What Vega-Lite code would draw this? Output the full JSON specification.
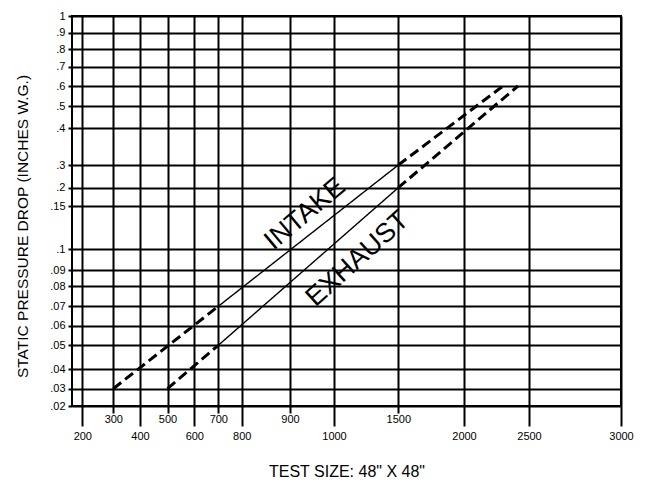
{
  "$schema": "https://vega.github.io/schema/vega-lite/v6.json",
  "width": 549,
  "height": 390,
  "autosize": "none",
  "padding": {"left": 72, "top": 16, "right": 26, "bottom": 79},
  "background": "white",
  "config": {
    "font": "Liberation Sans",
    "view": {"stroke": "black", "strokeWidth": 2},
    "axis": {
      "grid": true,
      "gridColor": "black",
      "gridOpacity": 1,
      "gridWidth": 2,
      "tickColor": "black",
      "tickWidth": 2,
      "domain": false,
      "labelColor": "black",
      "labelFontSize": 11,
      "labelFont": "Liberation Sans",
      "titleFont": "Liberation Sans",
      "titleColor": "black",
      "titleFontWeight": "normal"
    }
  },
  "datasets": {
    "curves": [
      {"series": "Intake", "seg": "i1", "style": "dashed", "size": 300, "drop": 0.03},
      {"series": "Intake", "seg": "i1", "style": "dashed", "size": 700, "drop": 0.07},
      {"series": "Intake", "seg": "i2", "style": "solid", "size": 700, "drop": 0.07},
      {"series": "Intake", "seg": "i2", "style": "solid", "size": 1500, "drop": 0.3},
      {"series": "Intake", "seg": "i3", "style": "dashed", "size": 1500, "drop": 0.3},
      {"series": "Intake", "seg": "i3", "style": "dashed", "size": 2300, "drop": 0.6},
      {"series": "Exhaust", "seg": "e1", "style": "dashed", "size": 500, "drop": 0.03},
      {"series": "Exhaust", "seg": "e1", "style": "dashed", "size": 700, "drop": 0.05},
      {"series": "Exhaust", "seg": "e2", "style": "solid", "size": 700, "drop": 0.05},
      {"series": "Exhaust", "seg": "e2", "style": "solid", "size": 1500, "drop": 0.2},
      {"series": "Exhaust", "seg": "e3", "style": "dashed", "size": 1500, "drop": 0.2},
      {"series": "Exhaust", "seg": "e3", "style": "dashed", "size": 2415, "drop": 0.6}
    ],
    "labels": [
      {"label": "INTAKE", "size": 934, "drop": 0.1407},
      {"label": "EXHAUST", "size": 1183, "drop": 0.0953}
    ]
  },
  "encoding": {
    "x": {
      "field": "size",
      "type": "quantitative",
      "scale": {
        "type": "linear",
        "nice": false,
        "zero": false,
        "domain": [167, 200, 300, 400, 500, 600, 700, 800, 900, 1000, 1500, 2000, 2500, 3000],
        "range": [0, 10.3, 41.3, 68, 95.5, 122.3, 146.3, 169.7, 218, 262, 326.3, 392, 457, 549]
      },
      "axis": {
        "values": [200, 300, 400, 500, 600, 700, 800, 900, 1000, 1500, 2000, 2500, 3000],
        "format": "d",
        "labelFlush": false,
        "labelOverlap": false,
        "tickSize": {"condition": {"test": "indexof([300,500,700,900,1500], datum.value) >= 0", "value": 7}, "value": 20},
        "labelPadding": {"condition": {"test": "indexof([300,500,700,900,1500], datum.value) >= 0", "value": 0}, "value": 4},
        "title": "TEST SIZE: 48\" X 48\"",
        "titleFontSize": 16,
        "titlePadding": 22
      }
    },
    "y": {
      "field": "drop",
      "type": "quantitative",
      "scale": {
        "type": "linear",
        "nice": false,
        "zero": false,
        "domain": [0.02, 0.03, 0.04, 0.05, 0.06, 0.07, 0.08, 0.09, 0.1, 0.15, 0.2, 0.3, 0.4, 0.5, 0.6, 0.7, 0.8, 0.9, 1],
        "range": [390, 372.7, 353, 329.3, 309.7, 290.3, 270, 254.3, 233, 190, 171.7, 149, 112.3, 90, 70, 50.7, 33.3, 16.7, 0]
      },
      "axis": {
        "values": [0.02, 0.03, 0.04, 0.05, 0.06, 0.07, 0.08, 0.09, 0.1, 0.15, 0.2, 0.3, 0.4, 0.5, 0.6, 0.7, 0.8, 0.9, 1],
        "labelExpr": "datum.value == 1 ? '1' : replace(toString(datum.value), '0.', '.')",
        "labelOverlap": false,
        "labelFlush": false,
        "tickSize": 4,
        "labelPadding": 3,
        "title": "STATIC PRESSURE DROP (INCHES W.G.)",
        "titleFontSize": 15.5,
        "titlePadding": 19,
        "titleY": 210
      }
    }
  },
  "layer": [
    {
      "data": {"name": "curves"},
      "mark": {"type": "line", "color": "black", "strokeCap": "butt"},
      "encoding": {
        "detail": {"field": "seg"},
        "strokeDash": {
          "field": "style",
          "type": "nominal",
          "scale": {"domain": ["dashed", "solid"], "range": [[10, 5], [1, 0]]},
          "legend": null
        },
        "strokeWidth": {
          "field": "style",
          "type": "nominal",
          "scale": {"domain": ["dashed", "solid"], "range": [3, 1.4]},
          "legend": null
        }
      }
    },
    {
      "data": {"name": "labels"},
      "transform": [{"filter": "datum.label == 'INTAKE'"}],
      "mark": {"type": "text", "fontSize": 27, "angle": 320, "align": "center", "baseline": "middle", "color": "black", "font": "Liberation Sans"},
      "encoding": {"text": {"field": "label"}}
    },
    {
      "data": {"name": "labels"},
      "transform": [{"filter": "datum.label == 'EXHAUST'"}],
      "mark": {"type": "text", "fontSize": 27, "angle": 318, "align": "center", "baseline": "middle", "color": "black", "font": "Liberation Sans"},
      "encoding": {"text": {"field": "label"}}
    }
  ]
}
